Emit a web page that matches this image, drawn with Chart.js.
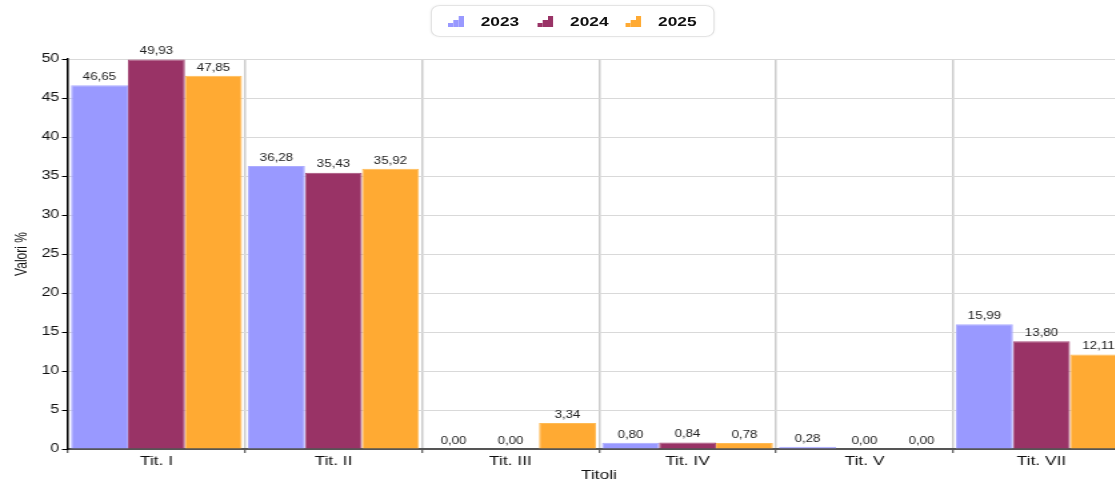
<!DOCTYPE html>
<html><head><meta charset="utf-8">
<script src="https://cdn.jsdelivr.net/npm/chart.js@4"></script>
<style>
html,body{margin:0;padding:0;background:#fff;overflow:hidden;width:1115px;height:483px;}
#wrap{position:absolute;left:0;top:0;width:855px;height:483px;transform:scaleX(1.33333);transform-origin:0 0;}
#cwrap{position:absolute;left:0;top:0;width:855px;height:483px;}
#legend{position:absolute;left:322.5px;top:5px;width:211px;height:30px;border:1px solid #e4e4e4;border-radius:7px;box-shadow:0 0 2px rgba(0,0,0,0.06);font:bold 13px "Liberation Sans",Arial,sans-serif;color:#111;}
.li{position:absolute;top:8px;line-height:15px;}
.ic{position:absolute;top:10px;}
</style></head>
<body>
<div id="wrap"><div id="cwrap"><canvas id="c"></canvas></div><div id="legend"></div></div>
<script>
const categories = ["Tit. I","Tit. II","Tit. III","Tit. IV","Tit. V","Tit. VII"];
const seriesNames = ["2023","2024","2025"];
const values2023 = [46.65, 36.28, 0.00, 0.80, 0.28, 15.99];
const values2024 = [49.93, 35.43, 0.00, 0.84, 0.00, 13.80];
const values2025 = [47.85, 35.92, 3.34, 0.78, 0.00, 12.11];
const yTicks = [0,5,10,15,20,25,30,35,40,45,50];
const colors = ["#9999FF","#993366","#FFAA33"];
const borders = ["#ACACFF","#A64D7A","#FFBB55"];

// HTML legend
const iconX = [12, 79, 145];
const textX = [37, 104, 170];
const leg = document.getElementById('legend');
seriesNames.forEach((n,i)=>{
  const ic=document.createElement('div');ic.className='ic';ic.style.left=iconX[i]+'px';
  ic.innerHTML='<svg width="12" height="11" style="display:block"><rect x="0" y="7" width="4" height="4" fill="'+colors[i]+'"/><rect x="4" y="4" width="4" height="7" fill="'+colors[i]+'"/><rect x="8" y="0" width="4" height="11" fill="'+colors[i]+'"/></svg>';
  leg.appendChild(ic);
  const t=document.createElement('div');t.className='li';t.style.left=textX[i]+'px';t.textContent=n;
  leg.appendChild(t);
});

const labelPlugin = {
  id:'vlabels',
  afterDatasetsDraw(chart){
    const ctx=chart.ctx;
    ctx.save();
    ctx.font='10px "Liberation Sans", Arial, sans-serif';
    ctx.fillStyle='#222';
    ctx.textAlign='center';
    ctx.textBaseline='bottom';
    chart.data.datasets.forEach((ds,di)=>{
      const meta=chart.getDatasetMeta(di);
      meta.data.forEach((bar,i)=>{
        const v=ds.data[i];
        ctx.fillText(v.toFixed(2).replace('.',','), bar.x, bar.y-3);
      });
    });
    ctx.restore();
  }
};

const font = '"Liberation Sans", Arial, sans-serif';
new Chart(document.getElementById('c'),{
  type:'bar',
  data:{
    labels:categories,
    datasets:[values2023,values2024,values2025].map((d,i)=>({
      label:seriesNames[i], data:d, backgroundColor:colors[i],
      borderColor:borders[i], borderWidth:1,
      categoryPercentage:0.966, barPercentage:1.0
    }))
  },
  options:{
    responsive:true, maintainAspectRatio:false, animation:false,
    layout:{padding:{top:59,right:7.5,left:0,bottom:0}},
    plugins:{legend:{display:false},tooltip:{enabled:false}},
    scales:{
      x:{
        afterFit(s){s.height=34;},
        grid:{offset:true,color:'#cccccc',lineWidth:1.5,tickColor:'#333',tickLength:4,tickWidth:1},
        border:{color:'#555',width:2},
        ticks:{font:{family:font,size:13},color:'#111',padding:1},
        title:{display:true,text:'Titoli',font:{family:font,size:13},color:'#111',padding:{top:0,bottom:0}}
      },
      y:{
        min:0,max:50,
        afterFit(s){s.width=51;},
        afterBuildTicks(s){s.ticks=yTicks.map(v=>({value:v}));},
        grid:{color:'#d9d9d9',lineWidth:1,tickColor:'#000',tickLength:4.5},
        border:{color:'#000',width:1.5},
        ticks:{font:{family:font,size:12},color:'#111',padding:2},
        title:{display:true,text:'Valori %',font:{family:font,size:12},color:'#111',padding:{top:9,bottom:0}}
      }
    }
  },
  plugins:[labelPlugin]
});
</script>
</body></html>
